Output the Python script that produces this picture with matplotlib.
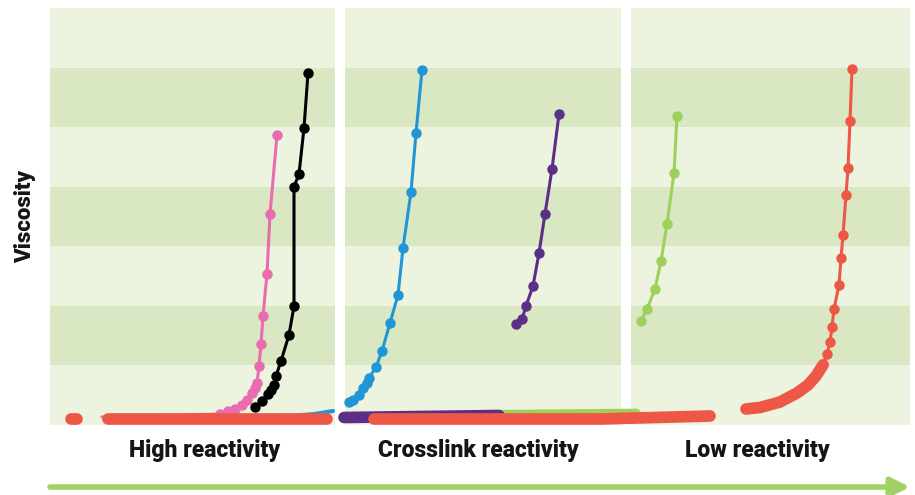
import numpy as np
import matplotlib
matplotlib.use('Agg')
import matplotlib.pyplot as plt

plt.rcParams['font.family'] = ['Roboto', 'DejaVu Sans']

# ── Data (time on x, viscosity on y, arbitrary units) ─────────
pink_x = [52, 170, 178, 185, 192, 197, 202, 205, 207, 209, 211, 213, 217, 220, 227]
pink_y = [8, 11, 14, 16, 20, 25, 32, 37, 42, 59, 81, 109, 151, 211, 290]

black_x = [205, 212, 218, 221, 224, 226, 231, 239, 244, 244, 249, 254, 258]
black_y = [18, 24, 31, 35, 40, 49, 64, 90, 119, 238, 251, 297, 352]

blue_base_x = [150, 240, 265, 283]
blue_base_y = [8, 9, 11, 14]
blue_x = [299, 303, 309, 313, 317, 319, 326, 332, 340, 348, 353, 361, 366, 372]
blue_y = [23, 25, 30, 37, 42, 47, 58, 74, 102, 130, 177, 233, 292, 355]

purple_base_x = [294, 449]
purple_base_y = [7.5, 9.5]
purple_x = [466, 472, 476, 483, 489, 495, 502, 509]
purple_y = [101, 106, 119, 139, 172, 211, 256, 311]

green_base_x = [420, 586]
green_base_y = [10, 11.5]
green_x = [591, 597, 605, 611, 617, 624, 627]
green_y = [104, 116, 136, 164, 201, 252, 309]

red_base_x = [21, 27, np.nan, 58, 277, np.nan, 324, 550, 660]
red_base_y = [6, 6, np.nan, 6, 6, np.nan, 6, 6, 9]
red_bulk_x = [696, 710, 730, 747, 758, 766, 773]
red_bulk_y = [16, 17.5, 23, 32, 40, 49, 60]
red_x = [773, 777, 780, 782, 784, 789, 791, 793, 796, 798, 800, 802]
red_y = [61, 71, 83, 98, 116, 140, 167, 190, 230, 257, 304, 356]

groups = ['High reactivity', 'Crosslink reactivity', 'Low reactivity']
group_pos = [155, 428, 707]
gaps = [(285, 295), (571, 581)]

# ── Colours ───────────────────────────────────────────────────
light = '#ecf3df'
dark = '#d9e8c2'
c_pink = '#e96cae'
c_black = '#000000'
c_blue = '#2196d6'
c_purple = '#5b2f87'
c_green = '#9fd05c'
c_red = '#ee5745'

fig = plt.figure(figsize=(9.15, 4.95), dpi=100)
ax = fig.add_axes([50 / 915, 70 / 495, 860 / 915, 417 / 495])
ax.set_xlim(0, 860)
ax.set_ylim(0, 417)

# striped background
band = 417 / 7
for i in range(7):
    ax.axhspan(i * band, (i + 1) * band, color=light if i % 2 == 0 else dark,
               lw=0, zorder=0)
for g0, g1 in gaps:
    ax.axvspan(g0, g1, color='white', lw=0, zorder=1)

thin = dict(lw=2.2, solid_capstyle='round', solid_joinstyle='round')
thick = dict(lw=8.4, solid_capstyle='round', solid_joinstyle='round')

ax.plot(blue_base_x, blue_base_y, color=c_blue, lw=3, solid_capstyle='round', zorder=2)
ax.plot(pink_x, pink_y, color=c_pink, marker='o', ms=6.5, markevery=range(1, len(pink_x)),
        zorder=2, **thin)
ax.plot(black_x, black_y, color=c_black, marker='o', ms=6.5, zorder=2, **thin)

ax.plot(green_base_x, green_base_y, color=c_green, lw=7, solid_capstyle='round', zorder=3)
ax.plot(purple_base_x, purple_base_y, color=c_purple, zorder=3, **thick)
ax.plot(red_base_x, red_base_y, color=c_red, zorder=4, **thick)

ax.plot(blue_x, blue_y, color=c_blue, marker='o', ms=6.5, zorder=5, **thin)
ax.plot(purple_x, purple_y, color=c_purple, marker='o', ms=6.5, zorder=5, **thin)
ax.plot(green_x, green_y, color=c_green, marker='o', ms=6.5, zorder=5, **thin)
ax.plot(red_bulk_x, red_bulk_y, color=c_red, zorder=5, **thick)
ax.plot(red_x, red_y, color=c_red, marker='o', ms=6.5, zorder=5, **thin)

for label, x in zip(groups, group_pos):
    ax.text(x, -25, label, ha='center', va='center', fontsize=16.5,
            fontweight='heavy', color='#151515', clip_on=False)

ax.set_ylabel('Viscosity', fontsize=16, fontweight='heavy', color='#151515', labelpad=10)
ax.set_xticks([])
ax.set_yticks([])
for s in ax.spines.values():
    s.set_visible(False)

# reactivity arrow
ax.annotate('', xy=(910 / 915, 1 - 487 / 495), xytext=(50 / 915, 1 - 487 / 495),
            xycoords='figure fraction', textcoords='figure fraction',
            arrowprops=dict(arrowstyle='-|>', color='#a2d166', lw=4,
                            mutation_scale=28, shrinkA=0, shrinkB=0))

plt.savefig('out.png', dpi=100)
